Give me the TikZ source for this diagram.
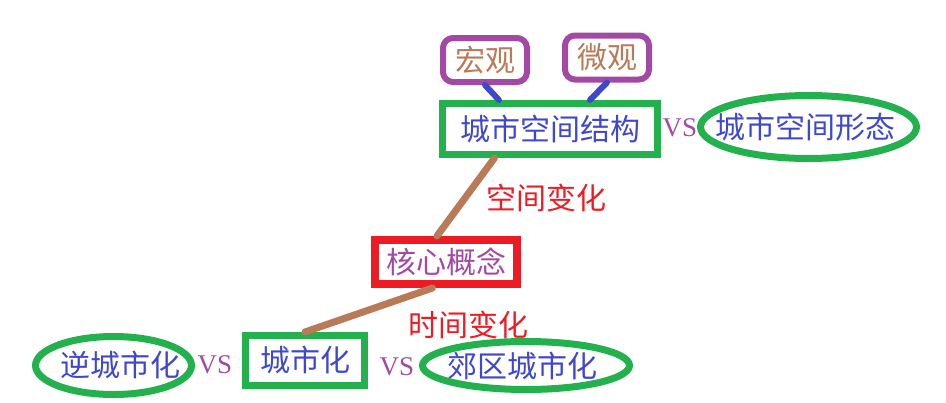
\documentclass[tikz,border=0pt]{standalone}
\usepackage{fontspec}
\setmainfont{Liberation Serif}
\newfontfamily\cjk{Noto Sans CJK SC}
\definecolor{paintgreen}{RGB}{34, 177, 76}
\definecolor{paintred}{RGB}{237, 28, 36}
\definecolor{paintpurple}{RGB}{163, 73, 164}
\definecolor{paintblue}{RGB}{63, 72, 204}
\definecolor{paintbrown}{RGB}{185, 122, 87}
\usetikzlibrary{calc}
\tikzset{
    termbox/.style={rectangle, draw=paintgreen, line width=7pt, inner sep=0pt,
                    text=paintblue, font=\cjk\fontsize{30}{36}\selectfont},
    corebox/.style={rectangle, draw=paintred, line width=8pt, inner sep=0pt,
                    text=paintpurple, font=\cjk\fontsize{30}{36}\selectfont},
    scalebox/.style={rectangle, rounded corners=10pt, draw=paintpurple, line width=6pt, inner sep=0pt,
                     minimum width=84pt, minimum height=44pt,
                     text=paintbrown, font=\cjk\fontsize{30}{36}\selectfont},
    ovaltext/.style={inner sep=0pt, text=paintblue, font=\cjk\fontsize{30}{36}\selectfont},
    ovalline/.style={draw=paintgreen, line width=7pt},
    changetext/.style={inner sep=0pt, text=paintred, font=\cjk\fontsize{30}{36}\selectfont},
    vstext/.style={inner sep=0pt, text=paintpurple, font=\fontsize{27}{32}\selectfont},
    scaleline/.style={line width=6pt, line cap=round, paintblue},
    changeline/.style={line width=7pt, line cap=round, paintbrown},
}

\begin{document}
\begin{tikzpicture}[x=1pt, y=-1pt]
            \useasboundingbox (0, 0) rectangle (946, 402);
            \node[scalebox] (macro) at (485, 60) {宏观};
            \node[scalebox] (micro) at (607, 57.5) {微观};
            \node[termbox, minimum width=215pt, minimum height=51pt] (struct) at (550, 129) {城市空间结构};
            \node[vstext] (vstop) at (680, 128) {VS};
            \node[ovaltext] (form) at (805, 127) {城市空间形态};
            \draw[ovalline] (808.5, 127) ellipse [x radius=108pt, y radius=31.5pt];

            \node[changetext] (spacechange) at (546, 198) {空间变化};
            \node[corebox, minimum width=142pt, minimum height=44pt] (core) at (446, 262) {核心概念};
            \node[changetext] (timechange) at (468, 325) {时间变化};

            \node[ovaltext] (counter) at (120, 365) {逆城市化};
            \draw[ovalline] (113.5, 365.5) ellipse [x radius=78pt, y radius=29pt];
            \node[vstext] (vsleft) at (215, 365) {VS};
            \node[termbox, minimum width=119pt, minimum height=50pt] (urban) at (305, 360.5) {城市化};
            \node[vstext] (vsright) at (397, 367) {VS};
            \node[ovaltext] (suburb) at (522.5, 366) {郊区城市化};
            \draw[ovalline] (526, 365.5) ellipse [x radius=103.5pt, y radius=24pt];

            \draw[scaleline] (macro.south) -- ($(struct.north west)!0.27!(struct.north east)$);
            \draw[scaleline] (micro.south) -- ($(struct.north west)!0.68!(struct.north east)$);
            \draw[changeline] ($(struct.south west)!0.25!(struct.south east)$) -- ($(core.north west)!0.44!(core.north east)$);
            \draw[changeline] ($(core.south west)!0.41!(core.south east)$) -- (urban.north);
        \end{tikzpicture}
\end{document}
